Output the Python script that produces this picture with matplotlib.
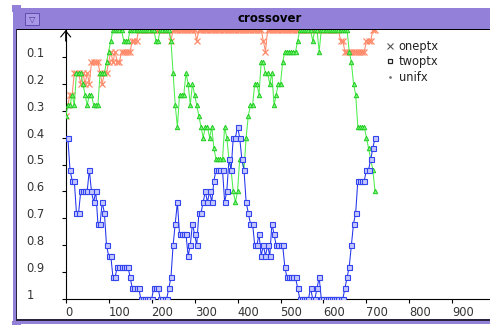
import numpy as np
import matplotlib
matplotlib.use("Agg")
import matplotlib.pyplot as plt
from matplotlib.patches import Rectangle
from matplotlib.lines import Line2D

# Sampled generations (every 5th generation)
generations = np.arange(0, 725, 5)

oneptx = [
    0.32, 0.28, 0.24, 0.24, 0.16, 0.16, 0.16, 0.20, 0.16, 0.20,
    0.16, 0.20, 0.12, 0.12, 0.12, 0.12, 0.16, 0.20, 0.16, 0.16,
    0.12, 0.08, 0.12, 0.08, 0.12, 0.12, 0.08, 0.08, 0.08, 0.08,
    0.08, 0.04, 0.04, 0.04, 0.00, 0.00, 0.00, 0.00, 0.00, 0.00,
    0.00, 0.00, 0.00, 0.00, 0.00, 0.00, 0.00, 0.00, 0.00, 0.04,
    0.00, 0.00, 0.00, 0.00, 0.00, 0.00, 0.00, 0.00, 0.00, 0.00,
    0.00, 0.04, 0.00, 0.00, 0.00, 0.00, 0.00, 0.00, 0.00, 0.00,
    0.00, 0.00, 0.00, 0.00, 0.00, 0.00, 0.00, 0.00, 0.00, 0.00,
    0.00, 0.00, 0.00, 0.00, 0.00, 0.00, 0.00, 0.00, 0.00, 0.00,
    0.00, 0.00, 0.04, 0.08, 0.00, 0.00, 0.00, 0.00, 0.00, 0.00,
    0.00, 0.00, 0.00, 0.00, 0.00, 0.00, 0.00, 0.00, 0.00, 0.00,
    0.00, 0.00, 0.00, 0.00, 0.00, 0.00, 0.00, 0.00, 0.00, 0.00,
    0.00, 0.00, 0.00, 0.00, 0.00, 0.00, 0.00, 0.00, 0.04, 0.04,
    0.08, 0.08, 0.08, 0.08, 0.08, 0.08, 0.08, 0.08, 0.08, 0.08,
    0.04, 0.04, 0.04, 0.00, 0.00,
]

twoptx = [
    0.40, 0.40, 0.52, 0.56, 0.56, 0.68, 0.68, 0.60, 0.60, 0.60,
    0.60, 0.52, 0.60, 0.64, 0.60, 0.72, 0.72, 0.64, 0.68, 0.80,
    0.84, 0.84, 0.92, 0.92, 0.88, 0.88, 0.88, 0.88, 0.88, 0.88,
    0.92, 0.96, 0.96, 0.96, 0.96, 1.00, 1.00, 1.00, 1.00, 1.00,
    1.00, 0.96, 0.96, 0.96, 1.00, 1.00, 1.00, 1.00, 0.96, 0.92,
    0.80, 0.72, 0.64, 0.76, 0.76, 0.76, 0.76, 0.84, 0.80, 0.72,
    0.76, 0.80, 0.68, 0.68, 0.64, 0.60, 0.64, 0.60, 0.64, 0.56,
    0.52, 0.52, 0.52, 0.52, 0.64, 0.60, 0.48, 0.52, 0.40, 0.40,
    0.36, 0.40, 0.48, 0.52, 0.64, 0.68, 0.72, 0.72, 0.80, 0.80,
    0.76, 0.84, 0.80, 0.84, 0.80, 0.84, 0.72, 0.76, 0.80, 0.80,
    0.80, 0.80, 0.88, 0.92, 0.92, 0.92, 0.92, 0.92, 0.96, 1.00,
    1.00, 1.00, 1.00, 1.00, 0.96, 1.00, 1.00, 0.96, 0.92, 1.00,
    1.00, 1.00, 1.00, 1.00, 1.00, 1.00, 1.00, 1.00, 1.00, 1.00,
    0.96, 0.92, 0.88, 0.80, 0.72, 0.68, 0.56, 0.56, 0.56, 0.56,
    0.52, 0.52, 0.48, 0.44, 0.40,
]

unifx = [
    0.32, 0.28, 0.28, 0.24, 0.28, 0.16, 0.16, 0.16, 0.20, 0.24,
    0.28, 0.24, 0.24, 0.28, 0.28, 0.28, 0.16, 0.16, 0.16, 0.12,
    0.08, 0.04, 0.00, 0.00, 0.00, 0.00, 0.00, 0.04, 0.04, 0.04,
    0.00, 0.00, 0.00, 0.00, 0.00, 0.00, 0.00, 0.00, 0.00, 0.00,
    0.00, 0.00, 0.04, 0.04, 0.00, 0.00, 0.00, 0.00, 0.00, 0.04,
    0.16, 0.28, 0.36, 0.24, 0.24, 0.24, 0.16, 0.20, 0.28, 0.20,
    0.24, 0.28, 0.32, 0.36, 0.40, 0.36, 0.36, 0.40, 0.36, 0.44,
    0.48, 0.48, 0.48, 0.48, 0.36, 0.40, 0.48, 0.52, 0.60, 0.64,
    0.60, 0.48, 0.48, 0.52, 0.40, 0.32, 0.28, 0.28, 0.20, 0.20,
    0.24, 0.12, 0.12, 0.16, 0.16, 0.20, 0.16, 0.28, 0.24, 0.20,
    0.20, 0.12, 0.08, 0.08, 0.08, 0.08, 0.08, 0.08, 0.04, 0.00,
    0.00, 0.00, 0.00, 0.00, 0.00, 0.04, 0.00, 0.00, 0.08, 0.00,
    0.00, 0.00, 0.00, 0.00, 0.00, 0.00, 0.00, 0.00, 0.00, 0.00,
    0.00, 0.00, 0.08, 0.12, 0.20, 0.24, 0.36, 0.36, 0.36, 0.36,
    0.40, 0.44, 0.48, 0.52, 0.60,
]

series_names = ["oneptx", "twoptx", "unifx"]
x_ticks = [0, 100, 200, 300, 400, 500, 600, 700, 800, 900]
y_ticks = [0.1, 0.2, 0.3, 0.4, 0.5, 0.6, 0.7, 0.8, 0.9, 1.0]
y_tick_labels = ["0.1", "0.2", "0.3", "0.4", "0.5", "0.6", "0.7", "0.8", "0.9", "1"]
window_title = "crossover"

W, H = 490, 325
fig = plt.figure(figsize=(W / 100, H / 100), dpi=100)
fig.patch.set_facecolor("white")


def fx(px):
    return px / W


def fy(py):
    return 1 - py / H


# Plot area: x = 0 sits on the vertical axis, value 1 on the horizontal axis
x0_px, x_scale = 65.7, 0.4296
top_px, bottom_px = 30.0, 299.0
ax = fig.add_axes([fx(x0_px), fy(bottom_px), fx(W) - fx(x0_px), fy(top_px) - fy(bottom_px)])
ax.set_xlim(0, (W - x0_px) / x_scale)
ax.set_ylim(1, 0)
ax.patch.set_alpha(0)
for side in ("top", "right"):
    ax.spines[side].set_visible(False)
for side in ("left", "bottom"):
    ax.spines[side].set_color("black")
    ax.spines[side].set_linewidth(0.8)

ax.set_xticks(x_ticks)
ax.set_xticklabels([str(v) for v in x_ticks], ha="left")
ax.set_yticks(y_ticks)
ax.set_yticklabels(y_tick_labels, ha="left", va="baseline")
ax.tick_params(axis="x", direction="out", length=2.9, width=0.8, pad=2.0,
               labelsize=8.3, labelcolor="#333333", color="black")
ax.tick_params(axis="y", direction="out", length=2.9, width=0.8, pad=25.2,
               labelsize=8.3, labelcolor="#333333", color="black")

# Arrow head at the top of the vertical axis
ax.annotate("", xy=(0, 1.0), xycoords="axes fraction",
            xytext=(0, -8), textcoords="offset points",
            arrowprops=dict(arrowstyle="->,head_length=0.55,head_width=0.45",
                            lw=0.8, color="black", mutation_scale=8,
                            shrinkA=0, shrinkB=0),
            annotation_clip=False)

ax.plot(generations, oneptx, color="#ff8a6a", lw=0.75, marker="x", ms=5,
        mew=0.9, zorder=2)
ax.plot(generations, unifx, color="#4cee4c", lw=0.75, marker="^", ms=3.2,
        mfc="#7cf27c", mec="#22cc22", mew=0.7, zorder=3)
ax.plot(generations, twoptx, color="#2233ee", lw=0.75, marker="s", ms=3.6,
        mfc="#c4c7ff", mec="#3344ee", mew=0.8, zorder=4)

handles = [
    Line2D([], [], ls="none", marker="x", color="#555555", ms=4.5, mew=0.8),
    Line2D([], [], ls="none", marker="s", mfc="none", mec="#222222", ms=3.4, mew=0.9),
    Line2D([], [], ls="none", marker=".", color="#777777", ms=2),
]
ax.legend(handles, series_names, loc="upper left",
          bbox_to_anchor=(fx(385), fy(40)), bbox_transform=fig.transFigure,
          frameon=False, fontsize=8.3, handlelength=0.8, handletextpad=0.4,
          borderpad=0, borderaxespad=0, labelspacing=0.2, labelcolor="#222222")

# Window frame
purple = "#9381d9"
dark = "#2a2440"


def rect(x0, y0, x1, y1, fc, ec="none", lw=0, z=5):
    fig.add_artist(Rectangle((fx(x0), fy(y1)), (x1 - x0) / W, (y1 - y0) / H,
                             transform=fig.transFigure, fc=fc, ec=ec, lw=lw,
                             zorder=z))


rect(12, 5, 21, 12, purple)
rect(13, 8, W, 29.3, purple)
rect(13, 29.3, W, 30.3, "black")
rect(13, 29, 16.2, 320.5, purple)
rect(16.2, 29, 17.2, 320.5, dark)
rect(16.2, 319.4, W, 320.5, dark)
rect(13, 320.5, W, 323.5, purple)
rect(12, 320.5, 21, 325, purple)
rect(25, 12.7, 39.3, 25, "#a797e6", ec="#5e4fae", lw=0.7, z=6)
fig.text(fx(32.2), fy(19.2), "▽", fontsize=6, color="#4a3c8c",
         ha="center", va="center", zorder=7)
fig.text(fx(269.5), fy(18.5), window_title, fontsize=8.5, fontweight="bold",
         color="black", ha="center", va="center", zorder=7)

fig.savefig("out.png", dpi=100)
